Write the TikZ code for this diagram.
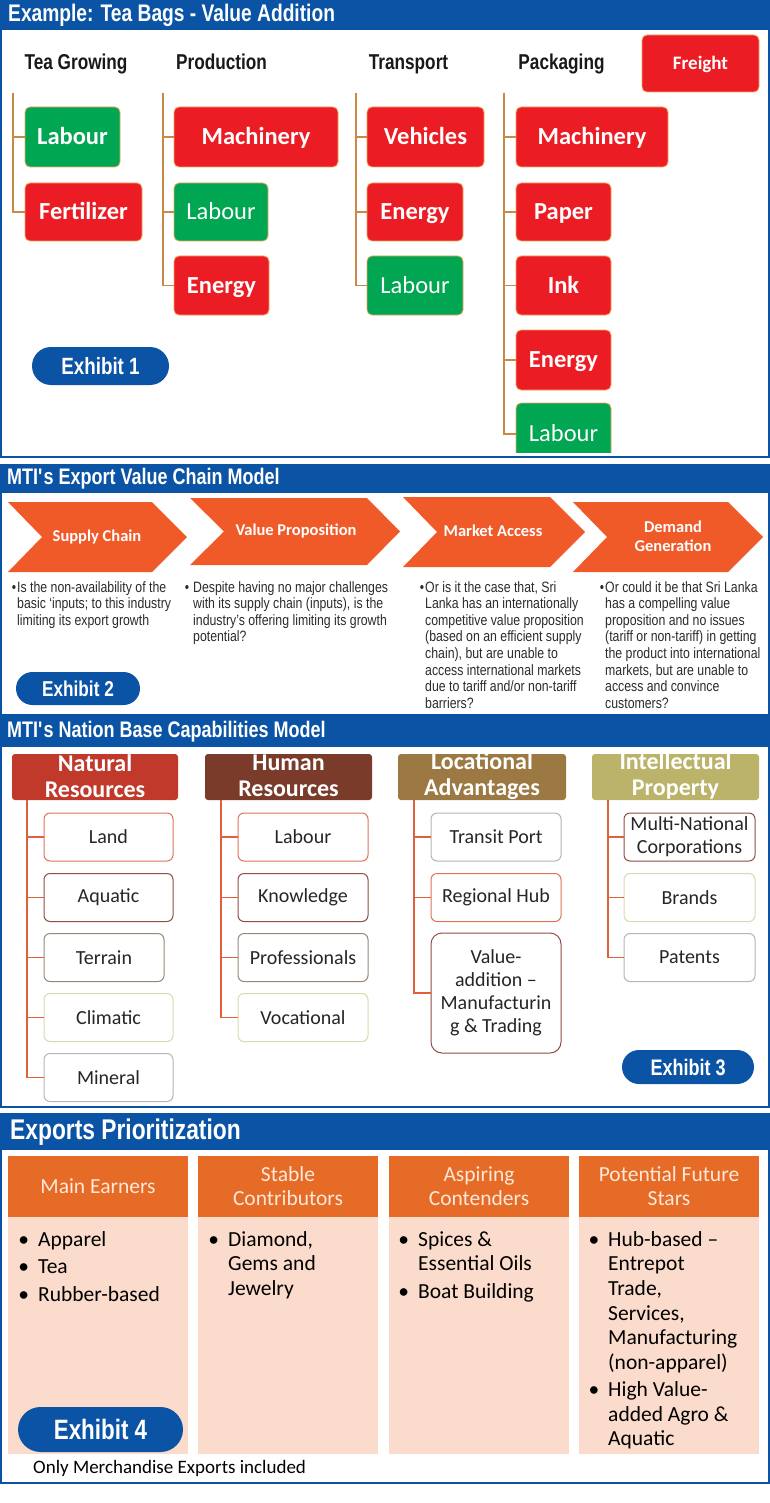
\documentclass[tikz,border=0pt]{standalone}
\usepackage{fontspec}
\setmainfont{Carlito}
\newfontfamily\condfont[FakeStretch=0.8]{Liberation Sans}
\newfontfamily\narrowfont[FakeStretch=0.82]{Liberation Sans}
\usetikzlibrary{positioning,shapes.misc}
\definecolor{hdrblue}{HTML}{0B54A5}
\definecolor{boxred}{HTML}{EC1C24}
\definecolor{boxgreen}{HTML}{00A651}
\definecolor{boxedge}{HTML}{F2A65A}
\definecolor{treetan}{HTML}{C98A48}
\definecolor{chevorange}{HTML}{F05A28}
\definecolor{bodygray}{HTML}{2B2B2B}
\definecolor{natred}{HTML}{C0392B}
\definecolor{humbrown}{HTML}{7B3B2B}
\definecolor{locbrown}{HTML}{9C7842}
\definecolor{intolive}{HTML}{BCB36B}
\definecolor{linered}{HTML}{E0603C}
\definecolor{edgered}{HTML}{E0735A}
\definecolor{edgebrown}{HTML}{8E4E42}
\definecolor{edgetaupe}{HTML}{978878}
\definecolor{edgeolive}{HTML}{DADAB0}
\definecolor{edgegray}{HTML}{B5B5B5}
\definecolor{prioorange}{HTML}{E56B26}
\definecolor{priopeach}{HTML}{FBDBCB}
\definecolor{priotext}{HTML}{FDE8DA}

\begin{document}
\begin{tikzpicture}[x=1pt,y=-1pt,
frame/.style={draw=hdrblue,line width=2.2pt},
title/.style={anchor=west,inner sep=0,text=white,font=\condfont\bfseries\fontsize{22.5}{24}\selectfont},
colhead/.style={anchor=base,inner sep=0,text=black!90,font=\condfont\bfseries\fontsize{21.5}{24}\selectfont},
box/.style={rounded corners=5pt,draw=boxedge,line width=0.8pt,text=white,inner sep=0,text height=18pt,text depth=2.5pt,font=\bfseries\fontsize{24.5}{28}\selectfont},
redbox/.style={box,fill=boxred},
greenbox/.style={box,fill=boxgreen},
lightbox/.style={greenbox,font=\fontsize{24.5}{28}\selectfont},
trunk/.style={draw=treetan,line width=1.3pt},
pill/.style={rounded rectangle,fill=hdrblue,text=white,inner sep=0,font=\condfont\bfseries\fontsize{23}{24}\selectfont},
chevtext/.style={text=white,inner sep=0,align=center,font=\bfseries\fontsize{16.5}{19}\selectfont},
bul/.style={anchor=north west,inner sep=0,align=left,text=bodygray,font=\narrowfont\fontsize{15}{16.6}\selectfont},
cathead/.style={rounded corners=3pt,inner sep=0,minimum width=167,minimum height=46},
catlabel/.style={inner sep=0,text=white,align=center,font=\bfseries\fontsize{24}{26}\selectfont},
natline/.style={draw=linered,line width=1.3pt},
subbox/.style={rounded corners=6pt,fill=white,line width=1pt,inner sep=0,text=black!85,align=center,minimum width=129,minimum height=48,font=\fontsize{20}{23}\selectfont},
priohead/.style={fill=prioorange,text=priotext,inner sep=0,align=center,minimum width=180,minimum height=61,font=\fontsize{21.5}{24}\selectfont},
priobody/.style={fill=priopeach,inner sep=0,minimum width=180,minimum height=237},
priolist/.style={anchor=north west,inner sep=0,align=left,text=black,font=\fontsize{21.5}{24.7}\selectfont}]
\useasboundingbox (0,0) rectangle (770,1503);
\fill[hdrblue] (0,0) rectangle (770,30);
\node[title,font=\condfont\bfseries\fontsize{24}{26}\selectfont] (ttea) at (8,15) {Example: Tea Bags - Value Addition};
\node[colhead] (hgrow) at (76,69.5) {Tea Growing};
\node[colhead] (hprod) at (221.5,69.5) {Production};
\node[colhead] (htran) at (408.5,69.5) {Transport};
\node[colhead] (hpack) at (561.5,69.5) {Packaging};
\node[redbox,minimum width=117,minimum height=57,text height=14pt,text depth=2pt,font=\bfseries\fontsize{19}{22}\selectfont] (frt) at (700.5,63.5) {Freight};
\node[greenbox,minimum width=95,minimum height=60] (grow1) at (72.5,137) {Labour};
\node[redbox,minimum width=117,minimum height=58] (grow2) at (83.5,212) {Fertilizer};
\node[redbox,minimum width=164,minimum height=60] (prod1) at (256,137) {Machinery};
\node[lightbox,minimum width=94,minimum height=58] (prod2) at (221,212) {Labour};
\node[redbox,minimum width=95,minimum height=59] (prod3) at (221.5,285.5) {Energy};
\node[redbox,minimum width=117,minimum height=60] (tran1) at (425.5,137) {Vehicles};
\node[redbox,minimum width=96,minimum height=58] (tran2) at (415,212) {Energy};
\node[lightbox,minimum width=96,minimum height=59] (tran3) at (415,285.5) {Labour};
\node[redbox,minimum width=152,minimum height=60] (pack1) at (592,137) {Machinery};
\node[redbox,minimum width=95,minimum height=58] (pack2) at (563.5,212) {Paper};
\node[redbox,minimum width=95,minimum height=59] (pack3) at (563.5,285.5) {Ink};
\node[redbox,minimum width=95,minimum height=60] (pack4) at (563.5,360) {Energy};
\begin{scope}
\clip (0,0) rectangle (770,452);
\node[lightbox,minimum width=95,minimum height=62] (pack5) at (563.5,434) {Labour};
\end{scope}
\coordinate (growtop) at (13,93);
\coordinate (prodtop) at (163,93);
\coordinate (trantop) at (356,93);
\coordinate (packtop) at (504,93);
\draw[trunk] (growtop) |- (grow1.west);
\draw[trunk] (growtop) |- (grow2.west);
\draw[trunk] (prodtop) |- (prod1.west);
\draw[trunk] (prodtop) |- (prod2.west);
\draw[trunk] (prodtop) |- (prod3.west);
\draw[trunk] (trantop) |- (tran1.west);
\draw[trunk] (trantop) |- (tran2.west);
\draw[trunk] (trantop) |- (tran3.west);
\draw[trunk] (packtop) |- (pack1.west);
\draw[trunk] (packtop) |- (pack2.west);
\draw[trunk] (packtop) |- (pack3.west);
\draw[trunk] (packtop) |- (pack4.west);
\draw[trunk] (packtop) |- (pack5.west);
\node[pill,minimum width=137,minimum height=38,font=\condfont\bfseries\fontsize{23.5}{24}\selectfont] (ex1) at (100.5,366) {Exhibit 1};
\draw[frame] (1,1) rectangle (769,457);
\fill[hdrblue] (0,465) rectangle (770,493);
\node[title] (tchain) at (7,479) {MTI\textquotesingle s Export Value Chain Model};
\fill[chevorange] (8,502) -- (152,502) -- (187,537) -- (152,572) -- (8,572) -- (42,537) -- cycle;
\node[chevtext] (csup) at (97,537) {Supply Chain};
\fill[chevorange] (190,498) -- (367,498) -- (400,531.5) -- (367,565) -- (190,565) -- (224,531.5) -- cycle;
\node[chevtext] (cval) at (296,531) {Value Proposition};
\fill[chevorange] (403,497) -- (550,497) -- (585,532) -- (550,567) -- (403,567) -- (437,532) -- cycle;
\node[chevtext] (cmkt) at (493,531) {Market Access};
\fill[chevorange] (573,502) -- (728,502) -- (763,537) -- (728,572) -- (573,572) -- (607,537) -- cycle;
\node[chevtext] (cdem) at (673,536) {Demand\\Generation};
\node[bul] (bsup) at (17,581) {\llap{\textbullet\hspace{1pt}}Is the non-availability of the\\basic ‘inputs; to this industry\\limiting its export growth};
\node[bul] (bval) at (193,581) {\llap{\textbullet\hspace{4pt}}Despite having no major challenges\\with its supply chain (inputs), is the\\industry’s offering limiting its growth\\potential?};
\node[bul] (bmkt) at (425,581) {\llap{\textbullet\hspace{1pt}}Or is it the case that, Sri\\Lanka has an internationally\\competitive value proposition\\(based on an efficient supply\\chain), but are unable to\\access international markets\\due to tariff and/or non-tariff\\barriers?};
\node[bul] (bdem) at (605,581) {\llap{\textbullet\hspace{1pt}}Or could it be that Sri Lanka\\has a compelling value\\proposition and no issues\\(tariff or non-tariff) in getting\\the product into international\\markets, but are unable to\\access and convince\\customers?};
\node[pill,minimum width=124,minimum height=33,font=\condfont\bfseries\fontsize{21.5}{24}\selectfont] (ex2) at (78,688.5) {Exhibit 2};
\draw[frame] (1,465) rectangle (769,715);
\fill[hdrblue] (0,717) rectangle (770,747);
\node[title] (tbase) at (7,732) {MTI\textquotesingle s Nation Base Capabilities Model};
\node[cathead,fill=natred,minimum width=166] (nat) at (95,777) {};
\node[catlabel] (natl) at (95,776) {Natural\\Resources};
\node[cathead,fill=humbrown] (hum) at (288.5,777) {};
\node[catlabel] (huml) at (288.5,776) {Human\\Resources};
\node[cathead,fill=locbrown,minimum width=168] (loc) at (482,777) {};
\node[catlabel] (locl) at (482,776) {Locational\\Advantages};
\node[cathead,fill=intolive] (int) at (675.5,777) {};
\node[catlabel] (intl) at (675.5,776) {Intellectual\\Property};
\node[subbox,draw=edgered] (nat1) at (108.5,837) {Land};
\node[subbox,draw=edgebrown] (nat2) at (108.5,897.5) {Aquatic};
\node[subbox,draw=edgetaupe,minimum width=120] (nat3) at (104,957.5) {Terrain};
\node[subbox,draw=edgeolive] (nat4) at (108.5,1017.5) {Climatic};
\node[subbox,draw=edgegray] (nat5) at (108.5,1077.5) {Mineral};
\node[subbox,draw=edgered,minimum width=130] (hum1) at (303,837) {Labour};
\node[subbox,draw=edgebrown,minimum width=130] (hum2) at (303,897.5) {Knowledge};
\node[subbox,draw=edgetaupe,minimum width=130] (hum3) at (303,957.5) {Professionals};
\node[subbox,draw=edgeolive,minimum width=130] (hum4) at (303,1017.5) {Vocational};
\node[subbox,draw=edgegray,minimum width=130] (loc1) at (496,837) {Transit Port};
\node[subbox,draw=edgered,minimum width=130] (loc2) at (496,897.5) {Regional Hub};
\node[subbox,draw=edgebrown,minimum width=130,minimum height=120,rounded corners=11pt] (loc3) at (496,993) {Value-\\addition –\\Manufacturin\\g \& Trading};
\node[subbox,draw=edgebrown,minimum width=131] (int1) at (689.5,837) {Multi-National\\Corporations};
\node[subbox,draw=edgeolive,minimum width=131] (int2) at (689.5,897.5) {Brands};
\node[subbox,draw=edgegray,minimum width=131] (int3) at (689.5,957.5) {Patents};
\coordinate (nattop) at (27,800);
\coordinate (humtop) at (221,800);
\coordinate (loctop) at (414,800);
\coordinate (inttop) at (608,800);
\draw[natline] (nattop) |- (nat1.west);
\draw[natline] (nattop) |- (nat2.west);
\draw[natline] (nattop) |- (nat3.west);
\draw[natline] (nattop) |- (nat4.west);
\draw[natline] (nattop) |- (nat5.west);
\draw[natline] (humtop) |- (hum1.west);
\draw[natline] (humtop) |- (hum2.west);
\draw[natline] (humtop) |- (hum3.west);
\draw[natline] (humtop) |- (hum4.west);
\draw[natline] (loctop) |- (loc1.west);
\draw[natline] (loctop) |- (loc2.west);
\draw[natline] (loctop) |- (loc3.west);
\draw[natline] (inttop) |- (int1.west);
\draw[natline] (inttop) |- (int2.west);
\draw[natline] (inttop) |- (int3.west);
\node[pill,minimum width=132,minimum height=34,font=\condfont\bfseries\fontsize{22.5}{24}\selectfont] (ex3) at (688,1067) {Exhibit 3};
\draw[frame] (1,717) rectangle (769,1107);
\fill[hdrblue] (0,1114) rectangle (770,1150);
\node[title,font=\condfont\bfseries\fontsize{28.5}{30}\selectfont] (tprio) at (10,1132) {Exports Prioritization};
\node[priohead] (main) at (98,1186.5) {Main Earners};
\node[priobody] (mainb) at (98,1335.5) {};
\node[priolist] (mainl) at (38,1231) {\llap{\textbullet\hspace{9pt}}Apparel\\[3pt]\llap{\textbullet\hspace{9pt}}Tea\\[3pt]\llap{\textbullet\hspace{9pt}}Rubber-based};
\node[priohead] (stab) at (288,1186.5) {Stable\\Contributors};
\node[priobody] (stabb) at (288,1335.5) {};
\node[priolist] (stabl) at (228,1231) {\llap{\textbullet\hspace{9pt}}Diamond,\\Gems and\\Jewelry};
\node[priohead] (aspi) at (479,1186.5) {Aspiring\\Contenders};
\node[priobody] (aspib) at (479,1335.5) {};
\node[priolist] (aspil) at (418,1231) {\llap{\textbullet\hspace{9pt}}Spices \&\\Essential Oils\\[3pt]\llap{\textbullet\hspace{9pt}}Boat Building};
\node[priohead] (star) at (669,1186.5) {Potential Future\\Stars};
\node[priobody] (starb) at (669,1335.5) {};
\node[priolist] (starl) at (608,1231) {\llap{\textbullet\hspace{9pt}}Hub-based –\\Entrepot\\Trade,\\Services,\\Manufacturing\\(non-apparel)\\[2pt]\llap{\textbullet\hspace{9pt}}High Value-\\added Agro \&\\Aquatic};
\node[pill,minimum width=165,minimum height=45,font=\condfont\bfseries\fontsize{28}{30}\selectfont] (ex4) at (100.5,1429.5) {Exhibit 4};
\node[anchor=west,inner sep=0,font=\fontsize{19}{22}\selectfont] (note) at (33,1468) {Only Merchandise Exports included};
\draw[frame] (1,1114) rectangle (769,1483);
\end{tikzpicture}
\end{document}
